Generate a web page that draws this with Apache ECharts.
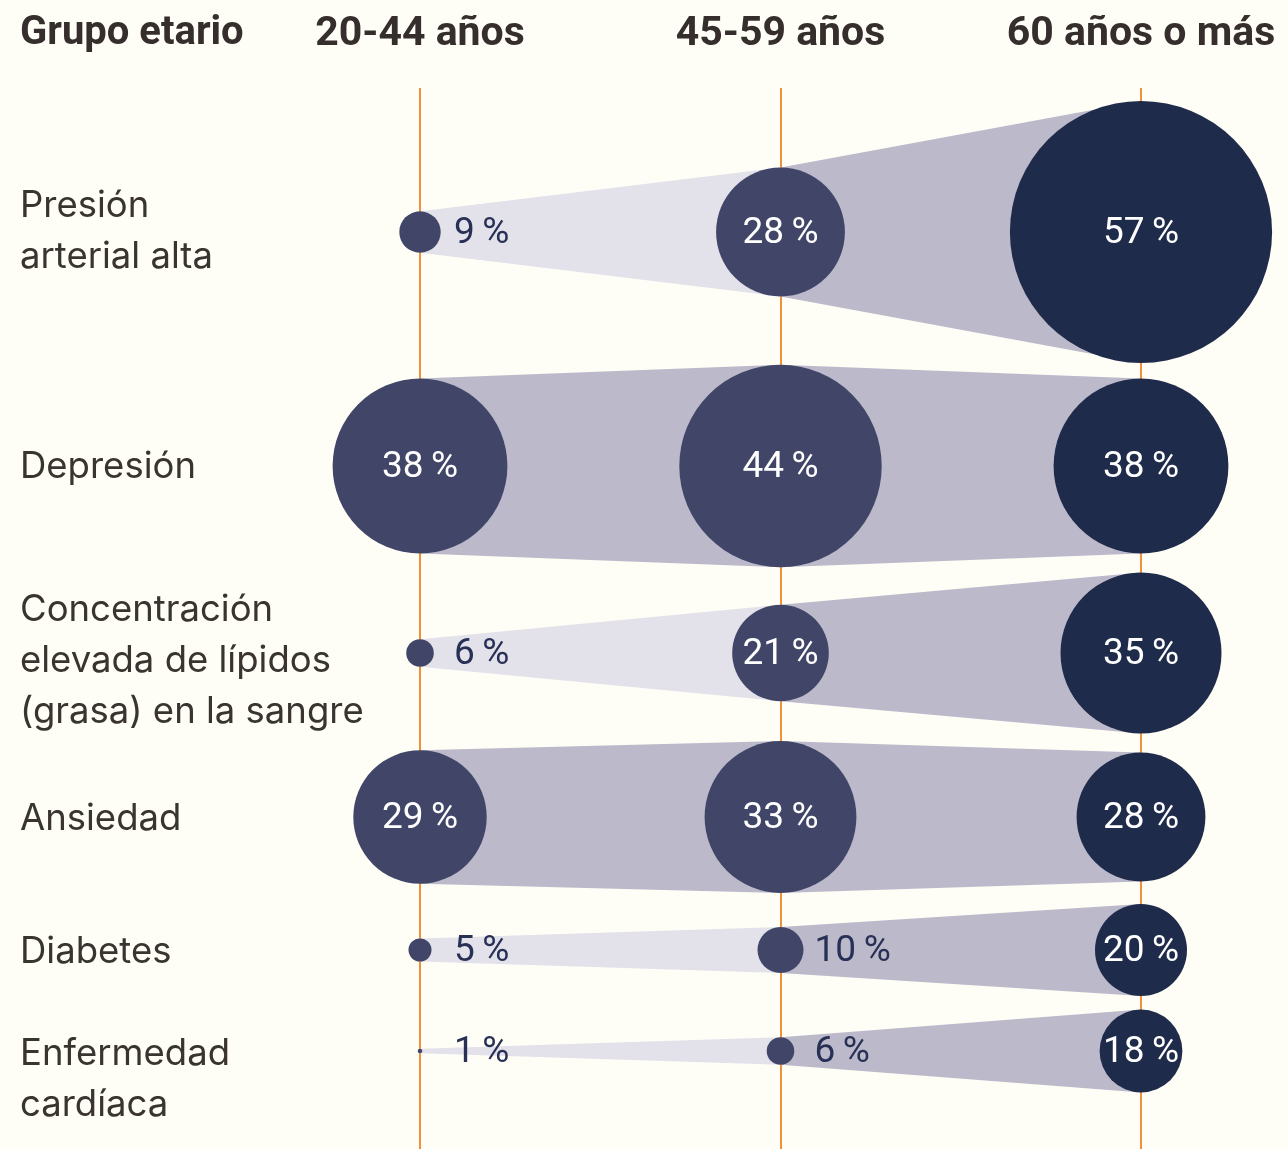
<!DOCTYPE html>
<html>
<head>
<meta charset="utf-8">
<script src="https://cdn.jsdelivr.net/npm/echarts@6/dist/echarts.min.js"></script>
<style>
  html, body { margin: 0; padding: 0; background: #fffef6; }
  #chart { width: 1288px; height: 1149px; }
</style>
</head>
<body>
<div id="chart"></div>
<script>
// data
const ageGroups = ['20-44 años', '45-59 años', '60 años o más'];
const conditions = [
    'Presión\narterial alta',
    'Depresión',
    'Concentración\nelevada de lípidos\n(grasa) en la sangre',
    'Ansiedad',
    'Diabetes',
    'Enfermedad\ncardíaca'
];
const age20to44 = [9, 38, 6, 29, 5, 1];
const age45to59 = [28, 44, 21, 33, 10, 6];
const age60plus = [57, 38, 35, 28, 20, 18];

// layout (row centres on the pixel-scaled y axis)
const rowY = [232, 466, 653, 817, 950, 1051];
const labelShift = [0, 1, 8, 2, 2, 29];
const PX_PER_PCT = 2.3;

const colours = {
    circle: '#414668',
    circleOld: '#1f2b4b',
    bandLight: '#e3e2eb',
    bandDark: '#bcbaca',
    textOut: '#283056',
    text: '#3a3431',
    line: '#f0913a'
};

var chart = echarts.init(document.getElementById('chart'));

function pctLabel(v) {
    return v + '\u2009%';
}

function renderRow(params, api) {
    const i = params.dataIndex;
    const vals = [age20to44[i], age45to59[i], age60plus[i]];
    const pts = vals.map((v, c) => api.coord([c, rowY[i]]));
    const radii = vals.map(v => v * PX_PER_PCT);
    const children = [];

    // bands between the columns
    for (let c = 0; c < 2; c++) {
        const a = pts[c], b = pts[c + 1];
        const light = c === 0 && vals[0] < 10;
        children.push({
            type: 'polygon',
            shape: { points: [
                [a[0], a[1] - radii[c]], [b[0], b[1] - radii[c + 1]],
                [b[0], b[1] + radii[c + 1]], [a[0], a[1] + radii[c]]
            ] },
            style: { fill: light ? colours.bandLight : colours.bandDark }
        });
    }

    // circles + value labels
    vals.forEach((v, c) => {
        children.push({
            type: 'circle',
            shape: { cx: pts[c][0], cy: pts[c][1], r: radii[c] },
            style: { fill: c === 2 ? colours.circleOld : colours.circle }
        });
    });
    vals.forEach((v, c) => {
        const inside = v > 10;
        children.push({
            type: 'text',
            style: {
                text: pctLabel(v),
                x: inside ? pts[c][0] : pts[c][0] + 34,
                y: pts[c][1] + 2,
                align: inside ? 'center' : 'left',
                verticalAlign: 'middle',
                fill: inside ? '#ffffff' : colours.textOut,
                fontFamily: 'Roboto',
                fontSize: 37
            }
        });
    });

    // row label on the left
    children.push({
        type: 'text',
        style: {
            text: conditions[i],
            x: 20,
            y: pts[0][1] + labelShift[i],
            align: 'left',
            verticalAlign: 'middle',
            fill: colours.text,
            fontFamily: 'Inter',
            fontSize: 36.5,
            lineHeight: 51
        }
    });

    return { type: 'group', children: children };
}

var option = {
    backgroundColor: '#fffef6',
    animation: false,
    grid: { left: 420, right: 147, top: 88, bottom: 0 },
    xAxis: {
        type: 'value',
        position: 'top',
        min: 0,
        max: 2,
        interval: 1,
        axisLine: { show: false },
        axisTick: { show: false },
        splitLine: { show: true, lineStyle: { color: colours.line, width: 2 } },
        axisLabel: {
            margin: 53,
            verticalAlign: 'middle',
            formatter: v => ageGroups[v] || '',
            color: '#352e2c',
            fontFamily: 'Roboto',
            fontWeight: 'bold',
            fontSize: 41
        }
    },
    yAxis: {
        type: 'value',
        inverse: true,
        min: 88,
        max: 1149,
        show: false,
        splitLine: { show: false }
    },
    graphic: [{
        type: 'text',
        left: 20,
        top: 14,
        style: {
            text: 'Grupo etario',
            fill: '#352e2c',
            fontFamily: 'Roboto',
            fontWeight: 'bold',
            fontSize: 40
        }
    }],
    series: [{
        type: 'custom',
        clip: false,
        renderItem: renderRow,
        encode: { x: 0, y: 1 },
        data: conditions.map((c, i) => [0, rowY[i]])
    }]
};

chart.setOption(option);
</script>
</body>
</html>
